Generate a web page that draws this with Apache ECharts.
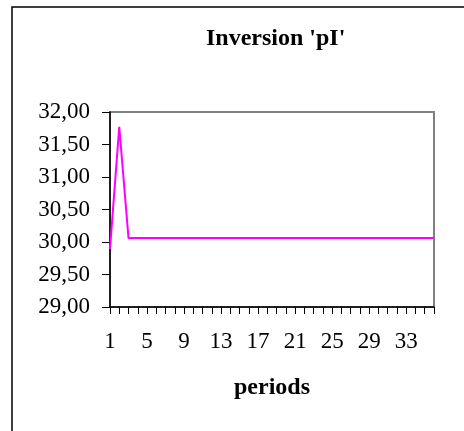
<!DOCTYPE html>
<html>
<head>
<meta charset="utf-8">
<script src="https://cdn.jsdelivr.net/npm/echarts@6/dist/echarts.min.js"></script>
<style>
html,body{margin:0;padding:0;background:#fff;}
#chart{width:464px;height:431px;}
</style>
</head>
<body>
<div id="chart"></div>
<script>
const titleText = "Inversion 'pI'";
const xAxisName = "periods";
const periods = [1,2,3,4,5,6,7,8,9,10,11,12,13,14,15,16,17,18,19,20,21,22,23,24,25,26,27,28,29,30,31,32,33,34,35,36];
const inversionPI = [29.89,31.77,30.06,30.06,30.06,30.06,30.06,30.06,30.06,30.06,30.06,30.06,30.06,30.06,30.06,30.06,30.06,30.06,30.06,30.06,30.06,30.06,30.06,30.06,30.06,30.06,30.06,30.06,30.06,30.06,30.06,30.06,30.06,30.06,30.06,30.06];
const yMin = 29, yMax = 32, yStep = 0.5;

const FONT = "'Liberation Serif', 'DejaVu Serif', serif";
const chart = echarts.init(document.getElementById('chart'), null, {renderer:'canvas'});
chart.setOption({
  backgroundColor: '#ffffff',
  animation: false,
  title: {
    text: titleText,
    left: 201, top: 22,
    textStyle: {fontFamily: FONT, fontWeight: 'bold', fontSize: 24, color: '#000'}
  },
  graphic: [{
    type: 'rect', silent: true, z: 100,
    shape: {x: 12, y: 7, width: 500, height: 500},
    style: {fill: 'none', stroke: '#000', lineWidth: 1.5}
  }],
  grid: {
    left: 110, right: 30, top: 112, bottom: 124,
    show: true, borderColor: '#808080', borderWidth: 2, backgroundColor: 'transparent'
  },
  xAxis: {
    type: 'category',
    data: periods,
    boundaryGap: false,
    name: xAxisName,
    nameLocation: 'middle',
    nameGap: 69,
    nameTextStyle: {fontFamily: FONT, fontWeight: 'bold', fontSize: 24, color: '#000'},
    axisLine: {lineStyle: {color: '#000', width: 1.5}},
    axisTick: {show: true, interval: 0, length: 7, lineStyle: {color: '#000', width: 1}},
    axisLabel: {interval: 3, margin: 23, fontFamily: FONT, fontSize: 23, color: '#000'},
    splitLine: {show: false}
  },
  yAxis: {
    type: 'value',
    min: yMin, max: yMax, interval: yStep,
    axisLine: {show: true, lineStyle: {color: '#000', width: 1.5}},
    axisTick: {show: true, length: 8, lineStyle: {color: '#000', width: 1}},
    axisLabel: {
      margin: 20, fontFamily: FONT, fontSize: 23, color: '#000',
      formatter: v => v.toFixed(2).replace('.', ',')
    },
    splitLine: {show: false}
  },
  series: [{
    type: 'line',
    data: inversionPI,
    showSymbol: false,
    symbol: 'none',
    lineStyle: {color: '#ff00ff', width: 2},
    itemStyle: {color: '#ff00ff'}
  }]
});
</script>
</body>
</html>
